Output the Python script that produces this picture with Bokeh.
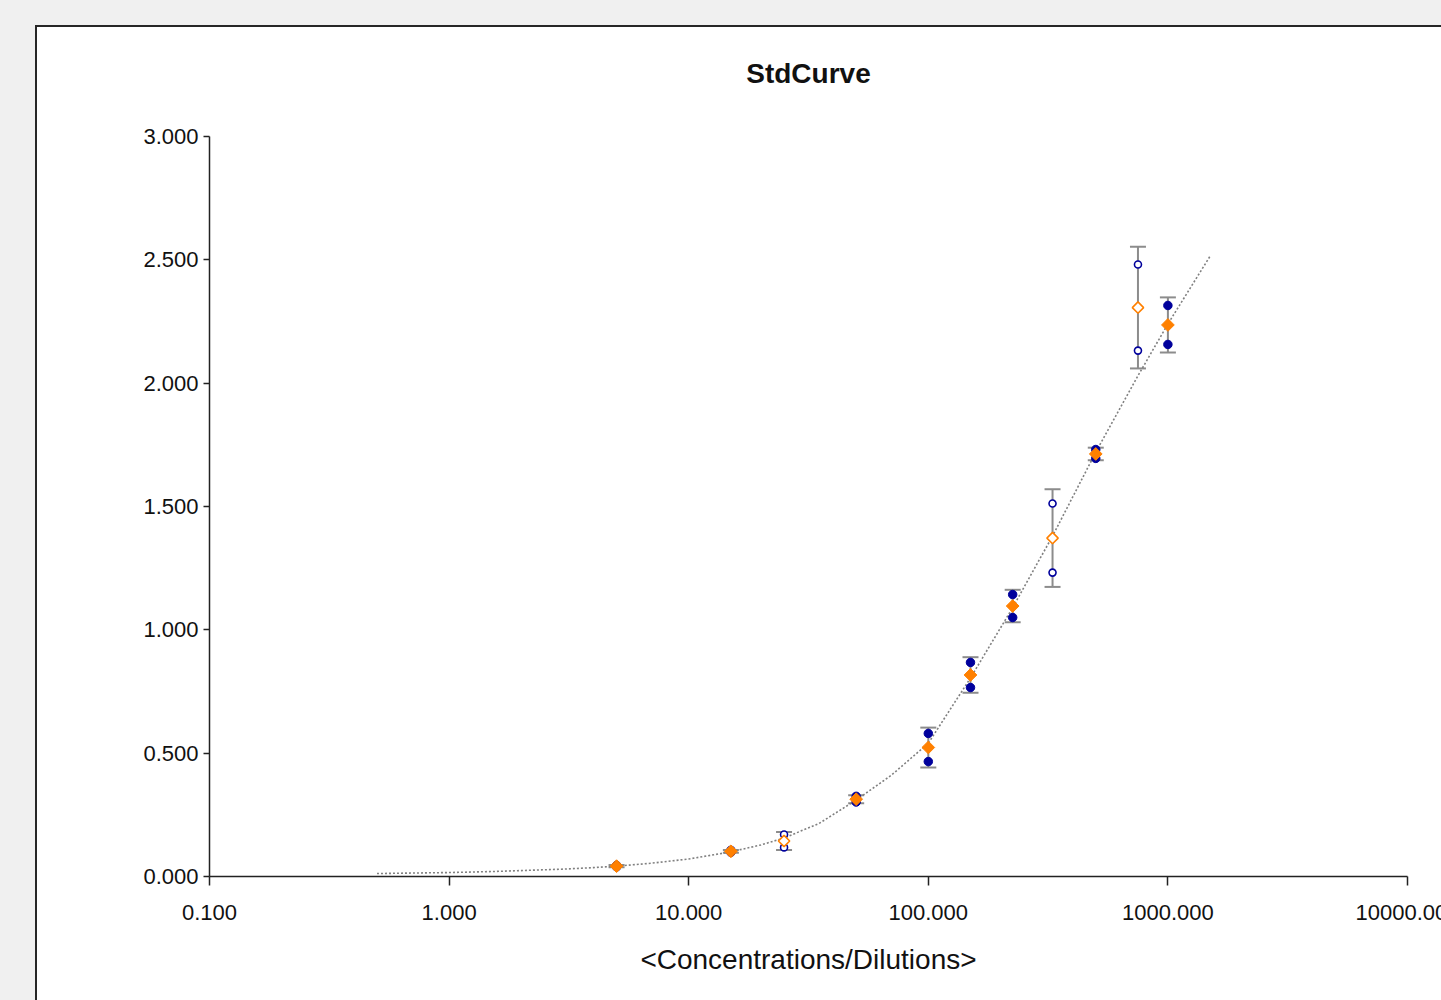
import numpy as np
from bokeh.plotting import figure
from bokeh.models import (ColumnDataSource, FixedTicker, PrintfTickFormatter, Whisker,
                          TeeHead, GlobalInlineStyleSheet)
from bokeh.embed import file_html
from bokeh.resources import INLINE

# ---------------- data ----------------
concentrations = [5, 15, 25, 50, 100, 150, 225, 330, 500, 750, 1000]
replicate_1 = [0.045, 0.106, 0.170, 0.325, 0.580, 0.868, 1.143, 1.512, 1.731, 2.481, 2.315]
replicate_2 = [0.039, 0.098, 0.118, 0.302, 0.466, 0.766, 1.050, 1.232, 1.695, 2.132, 2.157]
excluded = [False, False, True, False, False, False, False, True, False, True, False]

fit_x = [0.5, 0.7, 1, 1.5, 2, 3, 4, 5, 7, 10, 15, 20, 25, 35, 50, 70, 100,
         150, 225, 330, 500, 750, 1000, 1500]
fit_y = [0.012, 0.014, 0.016, 0.020, 0.024, 0.030, 0.036, 0.042, 0.054, 0.071,
         0.100, 0.128, 0.156, 0.215, 0.310, 0.410, 0.540, 0.805, 1.090, 1.380,
         1.720, 2.030, 2.240, 2.515]

x_ticks = [0.1, 1, 10, 100, 1000, 10000]
y_ticks = [0, 0.5, 1.0, 1.5, 2.0, 2.5, 3.0]

title_text = "StdCurve"
x_label = "<Concentrations/Dilutions>"

# ---------------- derived ----------------
r1 = np.array(replicate_1)
r2 = np.array(replicate_2)
conc = np.array(concentrations, dtype=float)
exc = np.array(excluded)
mean = (r1 + r2) / 2
sd = np.std(np.vstack([r1, r2]), axis=0, ddof=1)

BLUE = "#00009c"
ORANGE = "#ff8000"
GRAY = "#8c8c8c"
FONT = "Liberation Sans"

FRAME_W = 1198
FRAME_H = 740
TOP, LEFT, RIGHT, BOTTOM = 129, 174, 100, 141

# canvas is wider/taller than the window; the window crops it like the reference
p = figure(width=LEFT + FRAME_W + RIGHT, height=TOP + FRAME_H + BOTTOM, x_axis_type="log",
           x_range=(0.1, 10000), y_range=(0, 3),
           output_backend="svg", toolbar_location=None,
           min_border_left=LEFT, min_border_right=RIGHT,
           min_border_top=TOP, min_border_bottom=BOTTOM,
           title=title_text)

p.margin = (7, 0, 0, 35)
# white chart panel with dark top/left edge, page background above it
p.styles = {"background":
            "linear-gradient(to bottom, #f0f0f0 0px, #f0f0f0 18px, #262626 18px, "
            "#262626 20px, rgba(255,255,255,0) 20px), "
            "linear-gradient(to right, #262626 0px, #262626 2px, #ffffff 2px)"}
p.stylesheets = [GlobalInlineStyleSheet(
    css="html, body { margin:0; padding:0; background:#f0f0f0; overflow:hidden; }")]

p.background_fill_color = "white"
p.border_fill_color = None
p.outline_line_color = None
p.grid.visible = False

p.title.text_font = FONT
p.title.text_font_size = "28px"
p.title.text_font_style = "bold"
p.title.text_color = "#111111"
p.title.align = "center"
p.title.standoff = 96

for ax in (p.xaxis[0], p.yaxis[0]):
    ax.axis_line_color = "#222222"
    ax.axis_line_width = 1.5
    ax.major_tick_line_color = "#222222"
    ax.major_tick_line_width = 1.5
    ax.major_tick_in = 0
    ax.minor_tick_in = 0
    ax.minor_tick_out = 0
    ax.major_label_text_font = FONT
    ax.major_label_text_font_size = "22px"
    ax.major_label_text_color = "#111111"
    ax.formatter = PrintfTickFormatter(format="%.3f")

p.xaxis.ticker = FixedTicker(ticks=x_ticks)
p.yaxis.ticker = FixedTicker(ticks=y_ticks)
p.xaxis.major_tick_out = 9
p.yaxis.major_tick_out = 6
p.xaxis.major_label_standoff = 19
p.yaxis.major_label_standoff = 5
p.xaxis.axis_label = x_label
p.xaxis.axis_label_text_font = FONT
p.xaxis.axis_label_text_font_size = "28px"
p.xaxis.axis_label_text_font_style = "normal"
p.xaxis.axis_label_text_color = "#111111"
p.xaxis.axis_label_standoff = 21

# error bars
err_src = ColumnDataSource(dict(x=conc, upper=mean + sd, lower=mean - sd))
w = Whisker(source=err_src, base="x", upper="upper", lower="lower", dimension="height",
            line_color=GRAY, line_width=2, level="underlay")
w.upper_head = TeeHead(size=16, line_color=GRAY, line_width=2)
w.lower_head = TeeHead(size=16, line_color=GRAY, line_width=2)
p.add_layout(w)

# fitted curve
p.line(fit_x, fit_y, line_color="#808080", line_width=1.6, line_dash="2 2")

# replicates
inc = ~exc
rep_x_in = np.concatenate([conc[inc], conc[inc]])
rep_y_in = np.concatenate([r1[inc], r2[inc]])
rep_x_ex = np.concatenate([conc[exc], conc[exc]])
rep_y_ex = np.concatenate([r1[exc], r2[exc]])

p.scatter(rep_x_in, rep_y_in, marker="circle", size=8.5, fill_color=BLUE, line_color=BLUE)
p.scatter(rep_x_ex, rep_y_ex, marker="circle", size=7, fill_color="white",
          line_color=BLUE, line_width=1.6)

# means
p.scatter(conc[inc], mean[inc], marker="square", angle=np.pi / 4, size=9,
          fill_color=ORANGE, line_color=ORANGE)
p.scatter(conc[exc], mean[exc], marker="square", angle=np.pi / 4, size=8,
          fill_color="white", line_color=ORANGE, line_width=1.6)

open("out.html", "w").write(file_html(p, INLINE))
